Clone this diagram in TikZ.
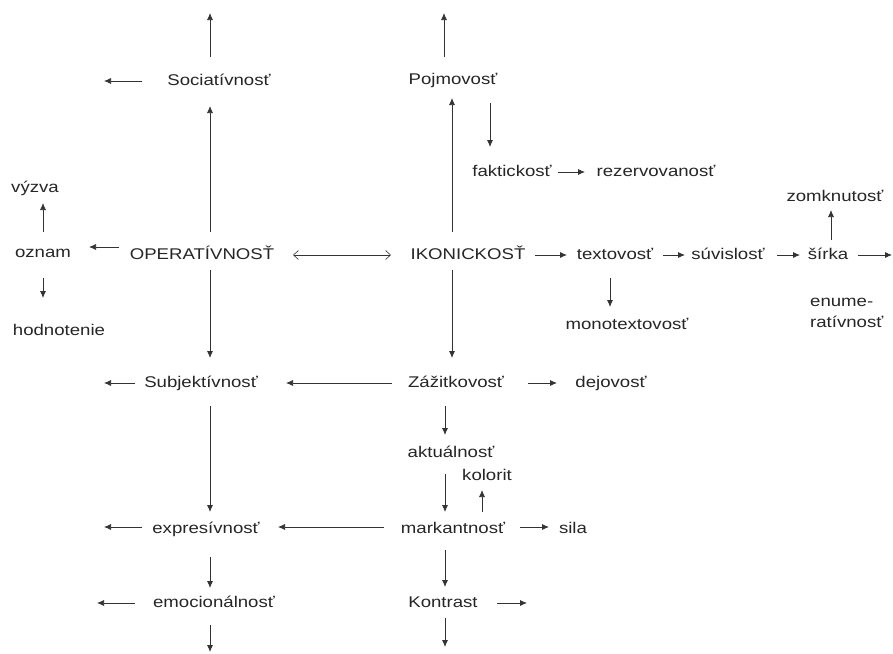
\documentclass[tikz,border=0pt]{standalone}
\usepackage{fontspec}
\setmainfont[FakeStretch=1.2]{Liberation Sans}
\usetikzlibrary{arrows.meta}
\begin{document}
\begin{tikzpicture}[x=1pt,y=-1pt,
  lbl/.style={inner sep=0pt,text=black!85,font=\fontsize{15.5}{21}\selectfont,text height=11pt,text depth=3pt},
  arr/.style={draw=black!80,line width=0.75pt,-{Latex[length=7pt,width=6pt]}},
  dbl/.style={draw=black!80,line width=0.6pt,{Straight Barb[length=5pt,width=9pt]}-{Straight Barb[length=5pt,width=9pt]}}]
\useasboundingbox[fill=white] (0,0) rectangle (893,653);
% nodes
\node[lbl] (soc) at (219,81) {Sociatívnosť};
\node[lbl] (pojm) at (453,80) {Pojmovosť};
\node[lbl] (fakt) at (512,172) {faktickosť};
\node[lbl] (rez) at (656,172) {rezervovanosť};
\node[lbl] (zomk) at (835,197) {zomknutosť};
\node[lbl] (vyzva) at (35,188) {výzva};
\node[lbl] (oznam) at (43,253) {oznam};
\node[lbl] (oper) at (202,255) {OPERATÍVNOSŤ};
\node[lbl] (ikon) at (468,255) {IKONICKOSŤ};
\node[lbl] (text) at (615,255) {textovosť};
\node[lbl] (suv) at (728,255) {súvislosť};
\node[lbl] (sirka) at (828,255) {šírka};
\node[lbl] (hodn) at (59,331) {hodnotenie};
\node[lbl] (mono) at (627,325) {monotextovosť};
\node[lbl,anchor=west,align=left,text height=,text depth=] (enum) at (810,313) {enume-\\ratívnosť};
\node[lbl] (sub) at (201,383) {Subjektívnosť};
\node[lbl] (zaz) at (456,383) {Zážitkovosť};
\node[lbl] (dej) at (611,383) {dejovosť};
\node[lbl] (akt) at (451,453) {aktuálnosť};
\node[lbl] (kol) at (487,476) {kolorit};
\node[lbl] (expr) at (206,529) {expresívnosť};
\node[lbl] (mark) at (453,529) {markantnosť};
\node[lbl] (sila) at (573,529) {sila};
\node[lbl] (emoc) at (214,603) {emocionálnosť};
\node[lbl] (kontr) at (443,603) {Kontrast};
% free ends
\coordinate (soctop) at (210,13);
\coordinate (socleft) at (104,81);
\coordinate (pojmtop) at (444,13);
\coordinate (sirkaright) at (892,255);
\coordinate (subleft) at (104,383);
\coordinate (exprleft) at (104,527);
\coordinate (emocleft) at (97,603);
\coordinate (kontrright) at (527,603);
\coordinate (emocdown) at (210,652);
\coordinate (kontrdown) at (445,647);
% connectors
\draw[arr] ([shift={(-9,-24)}]soc.center) -- (soctop);
\draw[arr] ([shift={(-77,0)}]soc.center) -- (socleft);
\draw[arr] ([shift={(8,-23)}]oper.center) -- ([shift={(-9,25)}]soc.center);
\draw[arr] ([shift={(0,-21)}]oznam.center) -- ([shift={(8,15)}]vyzva.center);
\draw[arr] ([shift={(-83,-8)}]oper.center) -- ([shift={(46,-6)}]oznam.center);
\draw[arr] ([shift={(0,25)}]oznam.center) -- ([shift={(-16,-33)}]hodn.center);
\draw[dbl] ([shift={(91,0)}]oper.center) -- ([shift={(-77,0)}]ikon.center);
\draw[arr] ([shift={(8,15)}]oper.center) -- ([shift={(9,-25)}]sub.center);
\draw[arr] ([shift={(-9,-23)}]pojm.center) -- (pojmtop);
\draw[arr] ([shift={(-16,-23)}]ikon.center) -- ([shift={(-1,18)}]pojm.center);
\draw[arr] ([shift={(37,23)}]pojm.center) -- ([shift={(-22,-25)}]fakt.center);
\draw[arr] ([shift={(46,0)}]fakt.center) -- ([shift={(-71,0)}]rez.center);
\draw[arr] ([shift={(3,-15)}]sirka.center) -- ([shift={(-4,13)}]zomk.center);
\draw[arr] ([shift={(67,0)}]ikon.center) -- ([shift={(-48,0)}]text.center);
\draw[arr] ([shift={(48,0)}]text.center) -- ([shift={(-43,0)}]suv.center);
\draw[arr] ([shift={(49,0)}]suv.center) -- ([shift={(-28,0)}]sirka.center);
\draw[arr] ([shift={(30,0)}]sirka.center) -- (sirkaright);
\draw[arr] ([shift={(-5,23)}]text.center) -- ([shift={(-17,-18)}]mono.center);
\draw[arr] ([shift={(-16,15)}]ikon.center) -- ([shift={(-4,-25)}]zaz.center);
\draw[arr] ([shift={(-66,0)}]sub.center) -- (subleft);
\draw[arr] ([shift={(-64,0)}]zaz.center) -- ([shift={(85,0)}]sub.center);
\draw[arr] ([shift={(72,0)}]zaz.center) -- ([shift={(-54,0)}]dej.center);
\draw[arr] ([shift={(9,23)}]sub.center) -- ([shift={(4,-17)}]expr.center);
\draw[arr] ([shift={(-11,23)}]zaz.center) -- ([shift={(-6,-18)}]akt.center);
\draw[arr] ([shift={(-6,21)}]akt.center) -- ([shift={(-8,-17)}]mark.center);
\draw[arr] ([shift={(29,-17)}]mark.center) -- ([shift={(-5,14)}]kol.center);
\draw[arr] ([shift={(-64,-2)}]expr.center) -- (exprleft);
\draw[arr] ([shift={(-69,-2)}]mark.center) -- ([shift={(72,-2)}]expr.center);
\draw[arr] ([shift={(67,-2)}]mark.center) -- ([shift={(-24,-2)}]sila.center);
\draw[arr] ([shift={(4,28)}]expr.center) -- ([shift={(-4,-15)}]emoc.center);
\draw[arr] ([shift={(-79,0)}]emoc.center) -- (emocleft);
\draw[arr] ([shift={(-8,21)}]mark.center) -- ([shift={(2,-16)}]kontr.center);
\draw[arr] ([shift={(54,0)}]kontr.center) -- (kontrright);
\draw[arr] ([shift={(-4,22)}]emoc.center) -- (emocdown);
\draw[arr] ([shift={(2,15)}]kontr.center) -- (kontrdown);
\end{tikzpicture}
\end{document}
